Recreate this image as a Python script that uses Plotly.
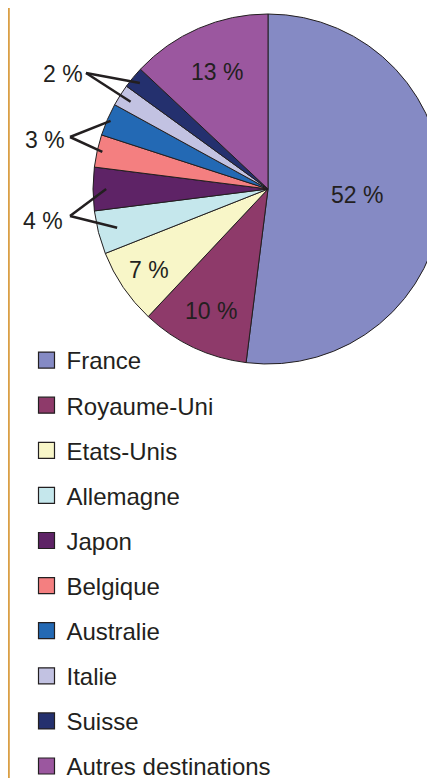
import math
import plotly.graph_objects as go

# ---- data ----
countries = ["France", "Royaume-Uni", "Etats-Unis", "Allemagne", "Japon",
             "Belgique", "Australie", "Italie", "Suisse", "Autres destinations"]
shares = [52, 10, 7, 4, 4, 3, 3, 2, 2, 13]
colors = ["#858AC4", "#8E3A6A", "#F8F6C8", "#C5E7EC", "#5E2366",
          "#F47F80", "#2369B4", "#C2C2E2", "#24306E", "#9B579F"]

# ---- layout constants (page pixels) ----
OFF = 8                 # default body margin of the page
W, H = 437, 800         # figure size (extends a little past the window)
CX, CY, R = 268, 189, 175
INK = "#231F20"
FONT = "Liberation Sans, Arial, sans-serif"


def px2paper(x, y):
    return (x - OFF) / W, 1 - (y - OFF) / H


total = sum(shares)
mids = []
acc = 0
for v in shares:
    mids.append(360.0 * (acc + v / 2) / total)
    acc += v


def slice_point(i, frac):
    a = math.radians(mids[i])
    return CX + frac * R * math.sin(a), CY - frac * R * math.cos(a)


x0p, y1p = px2paper(CX - R, CY - R)
x1p, y0p = px2paper(CX + R, CY + R)

fig = go.Figure()
fig.add_trace(go.Pie(
    labels=countries, values=shares, sort=False, direction="clockwise",
    rotation=0, textinfo="none", showlegend=False,
    marker=dict(colors=colors, line=dict(color=INK, width=1)),
    domain=dict(x=[x0p, x1p], y=[y0p, y1p]),
))

# legend entries (one group each, to control spacing)
for name, c in zip(countries, colors):
    fig.add_trace(go.Scatter(
        x=[None], y=[None], mode="markers", name=name, legendgroup=name,
        marker=dict(symbol="square", size=16, color=c,
                    line=dict(color=INK, width=1.2)),
    ))

annotations = []
shapes = []

# labels inside slices
inside = {0: 0.51, 1: 0.77, 2: 0.82, 9: 0.73}
for i, f in inside.items():
    xp, yp = px2paper(*slice_point(i, f))
    annotations.append(dict(x=xp, y=yp, xref="paper", yref="paper",
                            text=f"{shares[i]} %", showarrow=False,
                            font=dict(family=FONT, size=23, color=INK),
                            xanchor="center", yanchor="middle"))

# grouped outside labels with leader lines
groups = [
    # (slice indices, line radial fractions, text centre px, junction px)
    ((3, 4), (0.89, 0.925), (43, 221), (70, 216)),
    ((5, 6), (0.97, 0.98), (45, 140), (70, 137)),
    ((7, 8), (0.93, 0.95), (63, 74), (86, 73)),
]
for idx, fracs, tpos, jpos in groups:
    xp, yp = px2paper(*tpos)
    annotations.append(dict(x=xp, y=yp, xref="paper", yref="paper",
                            text=f"{shares[idx[0]]} %", showarrow=False,
                            font=dict(family=FONT, size=23, color=INK),
                            xanchor="center", yanchor="middle"))
    jx, jy = px2paper(*jpos)
    for i, f in zip(idx, fracs):
        ex, ey = px2paper(*slice_point(i, f))
        shapes.append(dict(type="line", xref="paper", yref="paper",
                           x0=jx, y0=jy, x1=ex, y1=ey,
                           line=dict(color=INK, width=2.5)))

# left border rule
bx, _ = px2paper(8.8, 0)
shapes.append(dict(type="line", xref="paper", yref="paper",
                   x0=bx, x1=bx, y0=0, y1=1,
                   line=dict(color="#DA9F45", width=2)))

lx, ly = px2paper(26.5, 338)
fig.update_layout(
    width=W, height=H, margin=dict(l=0, r=0, t=0, b=0),
    paper_bgcolor="white", plot_bgcolor="white",
    xaxis=dict(visible=False), yaxis=dict(visible=False),
    showlegend=True,
    legend=dict(x=lx, y=ly, xanchor="left", yanchor="top",
                font=dict(family=FONT, size=24, color=INK),
                tracegroupgap=10.9, bgcolor="rgba(0,0,0,0)"),
    annotations=annotations, shapes=shapes,
)

fig.write_html("out.html")
